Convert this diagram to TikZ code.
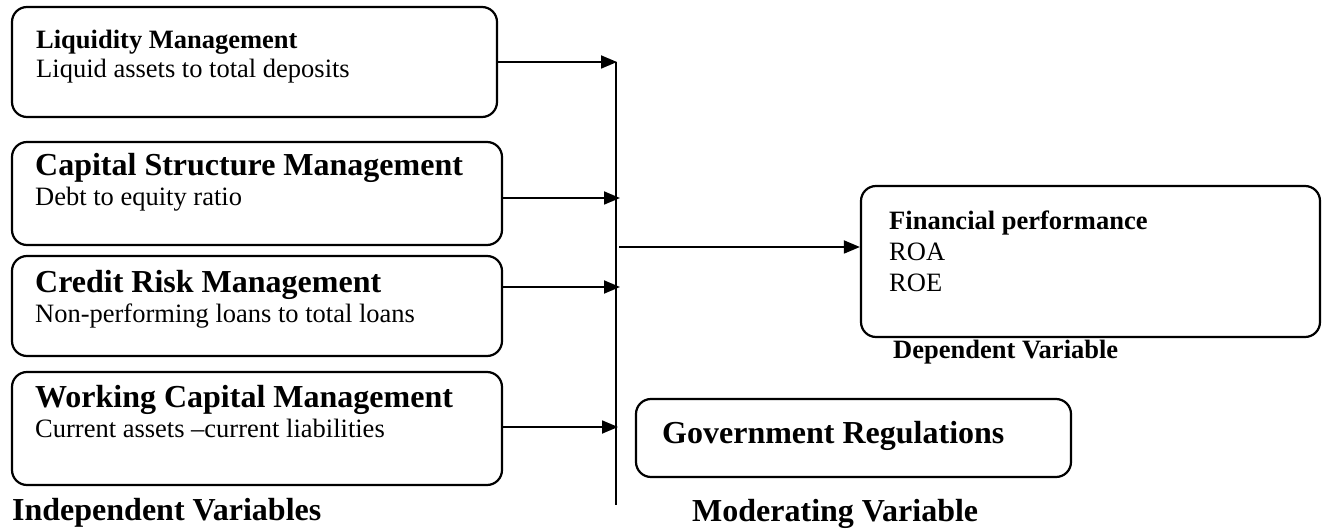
\documentclass[tikz,border=0pt]{standalone}
\usepackage{fontspec}
\setmainfont{Liberation Serif}
\usetikzlibrary{arrows.meta}
\tikzset{
  varbox/.style={draw, line width=2.2pt, rounded corners=15pt, inner sep=0pt},
  txt/.style={anchor=base west, inner sep=0pt, font=\fontsize{26.5}{30}\selectfont},
  btxt/.style={txt, font=\fontsize{26.5}{30}\selectfont\bfseries},
  bigtxt/.style={txt, font=\fontsize{32}{36}\selectfont\bfseries},
  conn/.style={line width=1.8pt, -{Triangle[length=16pt, width=13pt]}},
  plainline/.style={line width=1.8pt}
}
\begin{document}
\begin{tikzpicture}[x=1pt, y=-1pt]
\useasboundingbox (0,0) rectangle (1322,529);

% boxes
\node[varbox, minimum width=485pt, minimum height=110pt] (b1) at (254.5,62) {};
\node[varbox, minimum width=490pt, minimum height=103pt] (b2) at (257,193.5) {};
\node[varbox, minimum width=490pt, minimum height=100pt] (b3) at (257,306) {};
\node[varbox, minimum width=490pt, minimum height=113pt] (b4) at (257,428.5) {};
\node[varbox, minimum width=459pt, minimum height=151pt] (fin) at (1090.5,261.5) {};
\node[varbox, minimum width=435pt, minimum height=78pt] (gov) at (853.5,438) {};

% texts
\node[btxt] (t1a) at (36,49) {Liquidity Management};
\node[txt] (t1b) at (36,78) {Liquid assets to total deposits};
\node[bigtxt] (t2a) at (35,176) {Capital Structure Management};
\node[txt] (t2b) at (35,206) {Debt to equity ratio};
\node[bigtxt] (t3a) at (35,293) {Credit Risk Management};
\node[txt] (t3b) at (35,322) {Non-performing loans to total loans};
\node[bigtxt] (t4a) at (35,407) {Working Capital Management};
\node[txt] (t4b) at (35,437) {Current assets --current liabilities};
\node[bigtxt] (indep) at (12,520) {Independent Variables};
\node[btxt] (fina) at (889,230) {Financial performance};
\node[txt] (finb) at (889,261) {ROA};
\node[txt] (finc) at (889,291) {ROE};
\node[btxt] (dep) at (893,358) {Dependent Variable};
\node[bigtxt] (govt) at (662,443) {Government Regulations};
\node[bigtxt] (mod) at (692,521) {Moderating Variable};

% vertical collector line
\coordinate (vtop) at (616,62);
\coordinate (vbot) at (616,505);
\draw[plainline] (vtop) -- (vbot);

% arrow targets on the line
\coordinate (a1) at (617,62);
\coordinate (a2) at (620,198);
\coordinate (a3) at (620,287);
\coordinate (a4) at (618,427);
\draw[conn] (b1.east |- a1) -- (a1);
\draw[conn] (b2.east |- a2) -- (a2);
\draw[conn] (b3.east |- a3) -- (a3);
\draw[conn] (b4.east |- a4) -- (a4);

% arrow to dependent variable
\coordinate (fs) at (619,247);
\draw[conn] (fs) -- (fin.west |- fs);
\end{tikzpicture}
\end{document}
